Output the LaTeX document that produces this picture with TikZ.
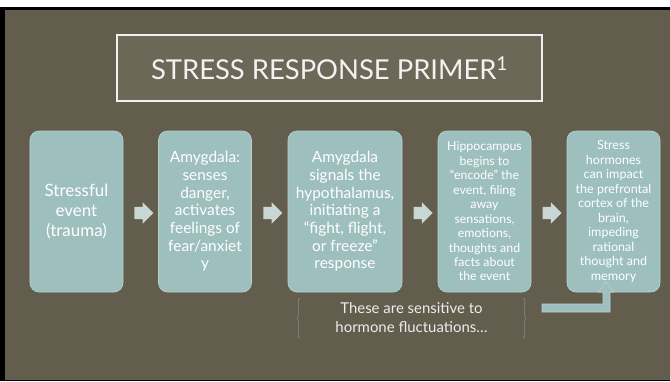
\documentclass[tikz,border=0pt]{standalone}
\usepackage{fontspec}
\setmainfont{Lato}
\usetikzlibrary{shapes.arrows,decorations.pathreplacing}
\definecolor{slidebg}{RGB}{98,93,77}
\definecolor{titlebg}{RGB}{109,103,87}
\definecolor{stepfill}{RGB}{157,191,190}
\definecolor{stepedge}{RGB}{188,209,207}
\definecolor{arrowfill}{RGB}{200,214,212}
\definecolor{bracecol}{RGB}{128,143,130}
\begin{document}
\begin{tikzpicture}[x=1bp,y=-1bp,
stepbox/.style={fill=stepfill,draw=stepedge,line width=.6bp,rounded corners=9bp,minimum width=93bp,minimum height=161bp,inner sep=2bp,text=white,align=center},
flowarrow/.style={single arrow,fill=arrowfill,draw=none,minimum height=19bp,single arrow head extend=4.5bp,inner xsep=0pt,inner ysep=6bp},
bracepath/.style={draw=bracecol,line width=.6bp,decorate,decoration={brace,amplitude=3bp}}]
\useasboundingbox (0,0) rectangle (670,381);
\fill[white] (0,0) rectangle (670,381);
\fill[black] (0,7) rectangle (670,381);
\fill[slidebg] (4.5,9.5) rectangle (670,379.5);
\node[draw=white!94!black,line width=1.8bp,fill=titlebg,minimum width=425bp,minimum height=66bp,text=white!95!black,font=\fontsize{27.5}{32}\selectfont] (title) at (329.5,68) {STRESS RESPONSE PRIMER\textsuperscript{1}};
\node[stepbox,font=\fontsize{17}{20}\selectfont] (event) at (76.5,211.5) {Stressful\\event\\(trauma)};
\node[stepbox,font=\fontsize{15.5}{17.7}\selectfont] (amygdala) at (205,211.5) {Amygdala:\\senses\\danger,\\activates\\feelings of\\fear/anxiet\\y};
\node[stepbox,minimum width=114bp,font=\fontsize{15.5}{17.7}\selectfont] (signal) at (345,211.5) {Amygdala\\signals the\\hypothalamus,\\initiating a\\“fight, flight,\\or freeze”\\response};
\node[stepbox,font=\fontsize{12.4}{14.5}\selectfont] (encode) at (484.5,211.5) {Hippocampus\\begins to\\“encode” the\\event, filing\\away\\sensations,\\emotions,\\thoughts and\\facts about\\the event};
\node[stepbox,font=\fontsize{12.6}{14.6}\selectfont] (hormones) at (613.5,211.5) {Stress\\hormones\\can impact\\the prefrontal\\cortex of the\\brain,\\impeding\\rational\\thought and\\memory};
\foreach \from/\to in {event/amygdala,amygdala/signal,signal/encode,encode/hormones}
  \path (\from.east) -- (\to.west) node[midway,yshift=-1.5bp,flowarrow] {};
\node[text=white!93!black,align=center,font=\fontsize{15}{19}\selectfont,minimum width=223bp,minimum height=40bp,inner sep=0pt] (note) at (411.5,318) {These are sensitive to\\hormone fluctuations…};
\draw[bracepath] (note.south west) -- (note.north west);
\draw[bracepath] (note.north east) -- (note.south east);
\coordinate (feed) at (542,304);
\draw[fill=stepfill,draw=stepedge,line width=.6bp] (feed) -- ++(61,0) -- ++(0,-12) -- ++(-5,0) -- ++(8,-10) -- ++(8,10) -- ++(-4,0) -- ++(0,20) -- ++(-68,0) -- cycle;
\end{tikzpicture}
\end{document}
